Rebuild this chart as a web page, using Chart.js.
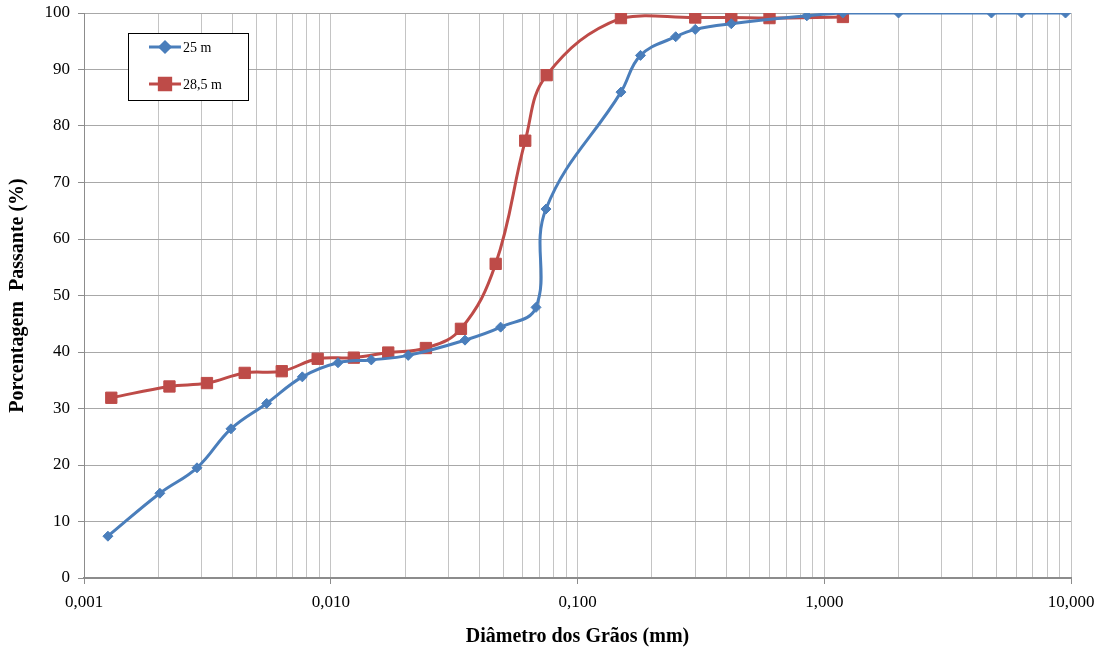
<!DOCTYPE html>
<html>
<head>
<meta charset="utf-8">
<script src="https://cdn.jsdelivr.net/npm/chart.js@4"></script>
<style>
  html, body { margin: 0; padding: 0; background: #fff; }
  #wrap { width: 1106px; height: 651px; }
</style>
</head>
<body>
<div id="wrap"><canvas id="granChart" width="1106" height="651"></canvas></div>
<script>
// grain size curves, diameter in mm and % passing
const diam25 = [0.00125, 0.00203, 0.00287, 0.00394, 0.0055, 0.00767, 0.0107, 0.0146, 0.0206, 0.035, 0.0488, 0.0679, 0.0745, 0.15, 0.18, 0.25, 0.3, 0.42, 0.85, 1.19, 2.0, 4.76, 6.3, 9.5];
const pass25 = [7.4, 15.0, 19.5, 26.4, 30.9, 35.6, 38.1, 38.6, 39.4, 42.1, 44.4, 47.9, 65.3, 86.0, 92.5, 95.8, 97.1, 98.1, 99.5, 100, 100, 100, 100, 100];

const diam285 = [0.00129, 0.00222, 0.00315, 0.00448, 0.00633, 0.00885, 0.0124, 0.0171, 0.0243, 0.0337, 0.0466, 0.0614, 0.075, 0.15, 0.3, 0.42, 0.6, 1.19];
const pass285 = [31.9, 33.9, 34.5, 36.3, 36.6, 38.8, 39.0, 39.9, 40.7, 44.1, 55.6, 77.4, 89.0, 99.1, 99.2, 99.2, 99.1, 99.3];

const seriesLabels = ["25 m", "28,5 m"];
const xDecades = [0.001, 0.01, 0.1, 1, 10];

const SERIF = "'Liberation Serif', 'Times New Roman', serif";

const toPoints = (xs, ys) => xs.map((x, i) => ({ x: x, y: ys[i] }));
const isDecade = (v) => Math.abs(Math.log10(v) - Math.round(Math.log10(v))) < 1e-9;

// small boxed legend in the upper left of the plot
const boxLegend = {
  id: "boxLegend",
  afterDraw(chart) {
    const ctx = chart.ctx;
    const x0 = 128, y0 = 33, w = 120, h = 67;
    ctx.save();
    ctx.fillStyle = "#fff";
    ctx.fillRect(x0, y0, w, h);
    ctx.strokeStyle = "#000";
    ctx.lineWidth = 1;
    ctx.strokeRect(x0 + 0.5, y0 + 0.5, w, h);
    const rows = [47, 84];
    chart.data.datasets.forEach((ds, i) => {
      const y = rows[i];
      ctx.strokeStyle = ds.borderColor;
      ctx.lineWidth = 3;
      ctx.beginPath();
      ctx.moveTo(149, y);
      ctx.lineTo(181, y);
      ctx.stroke();
      Chart.helpers.drawPoint(ctx, {
        pointStyle: ds.pointStyle,
        radius: ds.pointRadius,
        rotation: 0,
        borderWidth: 1
      }, 165, y);
      ctx.fillStyle = ds.backgroundColor;
      ctx.fill();
      ctx.fillStyle = "#000";
      ctx.font = "14px " + SERIF;
      ctx.textBaseline = "middle";
      ctx.fillText(ds.label, 183, y + 1);
    });
    ctx.restore();
  }
};

new Chart(document.getElementById("granChart"), {
  type: "line",
  data: {
    datasets: [
      {
        label: seriesLabels[0],
        data: toPoints(diam25, pass25),
        borderColor: "#4a7ebb",
        backgroundColor: "#4a7ebb",
        borderWidth: 3,
        pointStyle: "rectRot",
        pointRadius: 5,
        pointBorderWidth: 1,
        tension: 0.4
      },
      {
        label: seriesLabels[1],
        data: toPoints(diam285, pass285),
        borderColor: "#be4b48",
        backgroundColor: "#be4b48",
        borderWidth: 3,
        pointStyle: "rect",
        pointRadius: 8,
        pointBorderWidth: 1,
        tension: 0.4
      }
    ]
  },
  options: {
    responsive: false,
    animation: false,
    layout: { padding: { left: 0, right: 35, top: 13, bottom: 0 } },
    plugins: {
      legend: { display: false },
      tooltip: { enabled: false }
    },
    scales: {
      x: {
        type: "logarithmic",
        min: 0.001,
        max: 10,
        afterBuildTicks(scale) {
          const ticks = [];
          xDecades.forEach((d, i) => {
            if (i === xDecades.length - 1) {
              ticks.push({ value: d });
              return;
            }
            for (let k = 1; k <= 9; k++) ticks.push({ value: +(k * d).toPrecision(3) });
          });
          scale.ticks = ticks;
        },
        afterFit(scale) {
          scale.height = 73;
          scale.paddingLeft = 0;
          scale.paddingRight = 0;
        },
        border: { color: "#8c8c8c", width: 2 },
        grid: {
          color: "#c4c4c4",
          lineWidth: 1,
          tickLength: 6,
          tickColor: (c) => (c.tick && isDecade(c.tick.value) ? "#8c8c8c" : "rgba(0,0,0,0)")
        },
        ticks: {
          autoSkip: false,
          maxRotation: 0,
          padding: 8,
          color: "#000",
          font: { family: SERIF, size: 17 },
          callback: (v) => (isDecade(v) ? v.toFixed(3).replace(".", ",") : "")
        },
        title: {
          display: true,
          text: "Diâmetro dos Grãos (mm)",
          color: "#000",
          font: { family: SERIF, size: 20, weight: "bold" },
          padding: { top: 0, bottom: 2 }
        }
      },
      y: {
        min: 0,
        max: 100,
        afterFit(scale) {
          scale.width = 84;
          scale.paddingTop = 0;
          scale.paddingBottom = 0;
        },
        border: { color: "#8c8c8c", width: 1 },
        grid: { color: "#a8a8a8", lineWidth: 1, tickLength: 6, tickColor: "#8c8c8c" },
        ticks: {
          stepSize: 10,
          padding: 8,
          color: "#000",
          font: { family: SERIF, size: 17 }
        },
        title: {
          display: true,
          text: "Porcentagem  Passante (%)",
          color: "#000",
          font: { family: SERIF, size: 20, weight: "bold" },
          padding: { top: 6, bottom: 0 }
        }
      }
    }
  },
  plugins: [boxLegend]
});
</script>
</body>
</html>
